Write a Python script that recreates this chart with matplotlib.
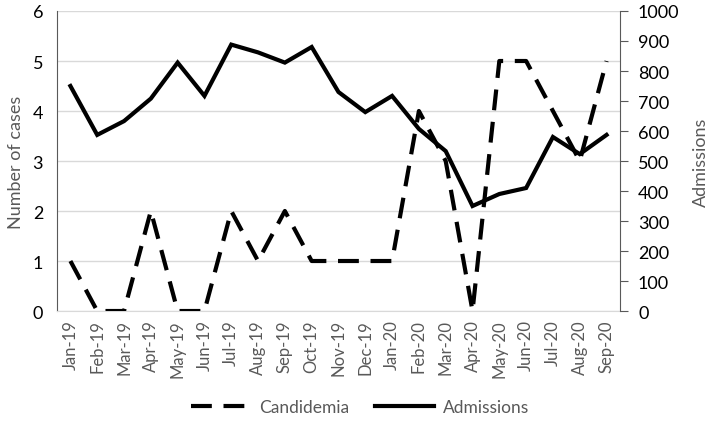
import matplotlib
matplotlib.use("Agg")
import matplotlib.pyplot as plt
from matplotlib.lines import Line2D

months = ["Jan-19", "Feb-19", "Mar-19", "Apr-19", "May-19", "Jun-19", "Jul-19",
          "Aug-19", "Sep-19", "Oct-19", "Nov-19", "Dec-19", "Jan-20", "Feb-20",
          "Mar-20", "Apr-20", "May-20", "Jun-20", "Jul-20", "Aug-20", "Sep-20"]
candidemia = [1, 0, 0, 2, 0, 0, 2, 1, 2, 1, 1, 1, 1, 4, 3, 0, 5, 5, 4, 3, 5]
admissions = [750, 587, 633, 708, 828, 717, 888, 862, 828, 880, 730, 663,
              717, 607, 533, 350, 390, 410, 580, 523, 587]

plt.rcParams['font.family'] = ['Lato', 'DejaVu Sans']
gray = '#595959'

fig = plt.figure(figsize=(7.09, 4.27), dpi=100)
ax = fig.add_axes([0.0804, 0.2693, 0.794, 0.7026])
ax2 = ax.twinx()

x = list(range(len(months)))
ax.plot(x, candidemia, color='black', lw=3, linestyle=(0, (5, 2.8)), zorder=3)
ax2.plot(x, admissions, color='black', lw=3, zorder=3, solid_joinstyle='miter')

ax.set_xlim(-0.5, len(months) - 0.5)
ax.set_ylim(0, 6)
ax2.set_ylim(0, 1000)
ax.set_yticks(range(0, 7))
ax2.set_yticks(range(0, 1001, 100))
ax.set_xticks(x)
ax.set_xticklabels(months, rotation=90, fontsize=12, color=gray)
ax.tick_params(axis='x', length=0, pad=6)
ax.tick_params(axis='y', length=0, labelsize=13, colors='black', pad=10)
ax2.tick_params(axis='y', length=6, direction='out', labelsize=13, colors='black',
                color=gray, pad=7)
ax.grid(axis='y', color='#d9d9d9', lw=1)
ax.set_axisbelow(True)

for a in (ax, ax2):
    a.spines['top'].set_visible(False)
ax.spines['right'].set_visible(False)
ax.spines['left'].set_color(gray)
ax.spines['bottom'].set_color('#d9d9d9')
ax2.spines['left'].set_visible(False)
ax2.spines['bottom'].set_visible(False)
ax2.spines['right'].set_color(gray)

ax.set_ylabel("Number of cases", fontsize=13, color=gray, labelpad=6)
ax2.set_ylabel("Admissions", fontsize=13, color=gray, labelpad=10)

handles = [Line2D([], [], color='black', lw=3, linestyle=(0, (5, 2.8))),
           Line2D([], [], color='black', lw=3)]
fig.legend(handles, ["Candidemia", "Admissions"], loc='center',
           bbox_to_anchor=(0.508, 0.045), ncol=2, frameon=False, fontsize=12.5,
           handlelength=3.4, handletextpad=0.5, columnspacing=1.5, labelcolor=gray)

fig.savefig("out.png", dpi=100)
